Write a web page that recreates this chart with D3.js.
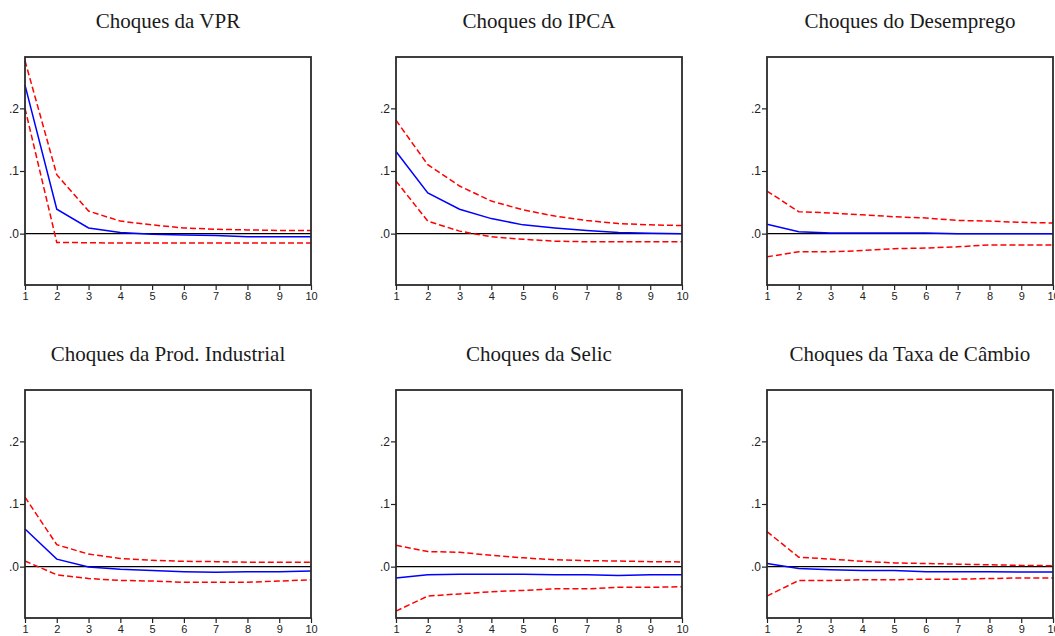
<!DOCTYPE html>
<html><head><meta charset="utf-8">
<script src="https://cdn.jsdelivr.net/npm/d3@7"></script>
<style>body{margin:0;background:#fff}</style>
</head><body>
<svg id="c" width="1055" height="636"></svg>
<script>
const periods = [1,2,3,4,5,6,7,8,9,10];
const titles = ["Choques da VPR","Choques do IPCA","Choques do Desemprego",
  "Choques da Prod. Industrial","Choques da Selic","Choques da Taxa de Câmbio"];
const yTicks = [0, 0.1, 0.2];
const yTickLabels = [".0", ".1", ".2"];

const vprResp  = [0.237,0.039,0.009,0.002,-0.001,-0.002,-0.003,-0.005,-0.005,-0.005];
const vprUpper = [0.276,0.094,0.036,0.020,0.014,0.009,0.007,0.006,0.005,0.005];
const vprLower = [0.200,-0.014,-0.0145,-0.015,-0.015,-0.015,-0.015,-0.015,-0.015,-0.015];

const ipcaResp  = [0.131,0.065,0.039,0.024,0.014,0.009,0.005,0.002,0.0005,0];
const ipcaUpper = [0.181,0.110,0.076,0.052,0.038,0.028,0.021,0.016,0.014,0.013];
const ipcaLower = [0.084,0.020,0.004,-0.005,-0.009,-0.012,-0.013,-0.013,-0.013,-0.013];

const desResp  = [0.015,0.003,0.001,0.001,0.001,0.001,0,0,0,0];
const desUpper = [0.068,0.035,0.033,0.030,0.027,0.025,0.021,0.020,0.018,0.017];
const desLower = [-0.037,-0.029,-0.029,-0.027,-0.024,-0.023,-0.021,-0.018,-0.018,-0.018];

const prodResp  = [0.060,0.012,-0.0005,-0.004,-0.006,-0.008,-0.009,-0.008,-0.008,-0.007];
const prodUpper = [0.111,0.035,0.020,0.013,0.010,0.0085,0.008,0.007,0.007,0.007];
const prodLower = [0.009,-0.013,-0.019,-0.022,-0.023,-0.025,-0.025,-0.025,-0.023,-0.021];

const selicResp  = [-0.018,-0.013,-0.012,-0.012,-0.012,-0.013,-0.013,-0.014,-0.013,-0.013];
const selicUpper = [0.034,0.024,0.023,0.018,0.014,0.011,0.0095,0.009,0.008,0.0075];
const selicLower = [-0.071,-0.047,-0.0435,-0.040,-0.038,-0.0355,-0.0355,-0.033,-0.033,-0.032];

const cambioResp  = [0.005,-0.003,-0.005,-0.006,-0.006,-0.008,-0.008,-0.008,-0.0085,-0.0085];
const cambioUpper = [0.056,0.015,0.012,0.0085,0.006,0.005,0.004,0.003,0.002,0.0015];
const cambioLower = [-0.047,-0.022,-0.022,-0.021,-0.021,-0.020,-0.020,-0.019,-0.018,-0.018];

const panels = [
  [vprResp,vprUpper,vprLower],[ipcaResp,ipcaUpper,ipcaLower],[desResp,desUpper,desLower],
  [prodResp,prodUpper,prodLower],[selicResp,selicUpper,selicLower],[cambioResp,cambioUpper,cambioLower]
];

const svg = d3.select("#c");
const lefts = [25, 396, 767];
const tops = [57, 390];
const W = 286, H = 228;

panels.forEach((p, i) => {
  const col = i % 3, row = Math.floor(i / 3);
  const g = svg.append("g").attr("transform", `translate(${lefts[col]},${tops[row]})`);
  const x = d3.scaleLinear().domain([1, 10]).range([0, W]);
  const y = d3.scaleLinear().domain([-0.082, 0.282]).range([H, 0]);

  g.append("text").attr("x", W/2).attr("y", -29).attr("text-anchor","middle")
    .attr("font-family","Liberation Serif, Times New Roman, serif").attr("font-size", 21)
    .attr("fill","#1a1a1a").text(titles[i]);

  // zero line
  g.append("line").attr("x1",0).attr("x2",W).attr("y1",y(0)).attr("y2",y(0))
    .attr("stroke","#000").attr("stroke-width",1.2);

  const line = d3.line().x((d,k) => x(periods[k])).y(d => y(d));
  g.append("path").datum(p[1]).attr("d", line).attr("fill","none")
    .attr("stroke","#ff0000").attr("stroke-width",1.5).attr("stroke-dasharray","6,3");
  g.append("path").datum(p[2]).attr("d", line).attr("fill","none")
    .attr("stroke","#ff0000").attr("stroke-width",1.5).attr("stroke-dasharray","6,3");
  g.append("path").datum(p[0]).attr("d", line).attr("fill","none")
    .attr("stroke","#0000ff").attr("stroke-width",1.5);

  // axes
  const ax = g.append("g").attr("transform", `translate(0,${H})`)
    .call(d3.axisBottom(x).tickValues(periods).tickSize(5).tickPadding(2).tickFormat(d3.format("d")));
  const ay = g.append("g")
    .call(d3.axisLeft(y).tickValues(yTicks).tickSize(5).tickPadding(1)
      .tickFormat((d,k) => yTickLabels[k]));
  [ax, ay].forEach(a => {
    a.select(".domain").remove();
    a.selectAll("line").attr("stroke","#222").attr("stroke-width",1.2);
    a.selectAll("text").attr("font-family","Liberation Sans, Arial, sans-serif").attr("fill","#222");
  });
  ax.selectAll("text").attr("font-size", 11);
  ay.selectAll("text").attr("font-size", 12);

  // frame
  g.append("rect").attr("x",0).attr("y",0).attr("width",W).attr("height",H)
    .attr("fill","none").attr("stroke","#2a2a2a").attr("stroke-width",1.8);
});
</script>
</body></html>
